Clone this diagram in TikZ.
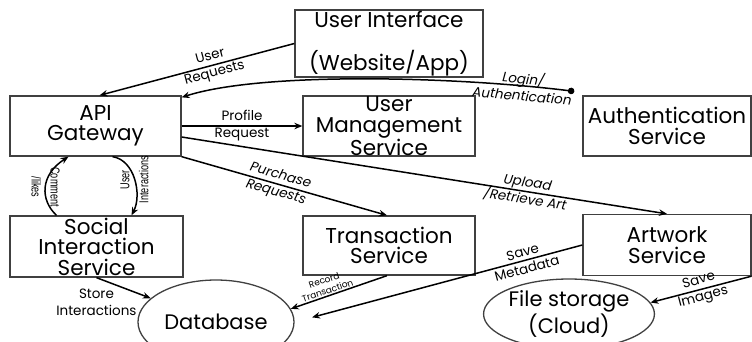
\documentclass[tikz,border=0pt]{standalone}
\usepackage{fontspec}
\setmainfont{Poppins}
\newfontfamily\narrowfont[FakeStretch=0.7]{Liberation Sans}
\usetikzlibrary{arrows.meta,shapes.geometric}

\begin{document}
\begin{tikzpicture}[x=1pt,y=-1pt]
  \tikzstyle{service}=[draw=black!75, line width=1.3pt, rectangle, align=center, inner sep=0pt, font=\fontsize{21.5}{20.5}\selectfont]
  \tikzstyle{store}=[draw=black!75, line width=1.3pt, ellipse, align=center, inner sep=0pt, font=\fontsize{21}{23}\selectfont]
  \tikzstyle{flow}=[line width=1.5pt, -{Stealth[length=8pt,width=6.5pt]}]
  \tikzstyle{lbl}=[align=center, inner sep=1pt, font=\fontsize{13.5}{17}\selectfont]
  \tikzstyle{lbli}=[lbl, font=\fontsize{13.5}{17}\selectfont\itshape]
  \tikzstyle{tinylbl}=[align=center, inner sep=1pt, font=\fontsize{9}{11}\selectfont]
  \tikzstyle{vlbl}=[align=center, inner sep=1pt, font=\narrowfont\fontsize{13}{19}\selectfont]

  \useasboundingbox (0,0) rectangle (752,341);

  % services
  \node (ui) at (389,43.5) [service, minimum width=188pt, minimum height=67pt] {User Interface\\[22pt](Website/App)};
  \node (api) at (95.5,126) [service, minimum width=171pt, minimum height=60pt] {API\\Gateway};
  \node (usermgmt) at (389,126) [service, minimum width=172pt, minimum height=60pt] {User\\Management\\Service};
  \node (auth) at (667,126) [service, minimum width=168pt, minimum height=60pt] {Authentication\\Service};
  \node (social) at (96.5,246.5) [service, minimum width=173pt, minimum height=61pt] {Social\\Interaction\\Service};
  \node (trans) at (389,245.5) [service, minimum width=172pt, minimum height=59pt] {Transaction\\Service};
  \node (artwork) at (667,245) [service, minimum width=168pt, minimum height=61pt] {Artwork\\Service};

  % stores
  \node (db) at (216,322) [store, minimum width=156pt, minimum height=84pt] {Database};
  \node (files) at (569,314) [store, minimum width=154pt, minimum height=70pt] {File storage\\(Cloud)};

  % requests from the front end
  \draw[flow] (ui.west) -- node[lbl, sloped, pos=0.42] {User\\Requests} ([xshift=4pt]api.north);
  \draw[line width=1.5pt, {Circle[length=6.5pt]}-{Stealth[length=8pt,width=6.5pt]}]
    ([xshift=-8pt,yshift=4pt]auth.north west) .. controls (450,76) and (260,72) .. ([yshift=-2pt]api.north east)
    node[lbli, sloped, pos=0.13] {Login/\\Authentication};

  % gateway to services
  \draw[flow] (api.east) -- node[lbl] {Profile\\Request} (usermgmt.west);
  \draw[flow] (api.south east) -- node[lbli, sloped, pos=0.47] {Purchase\\Requests} ([xshift=-2pt]trans.north);
  \draw[flow] ([yshift=-11pt]api.east) -- node[lbli, sloped, pos=0.71] {Upload\\/Retrieve Art} (artwork.north);

  % social loop
  \draw[flow] ([xshift=-40pt]social.north) .. controls (40,200) and (40,175) .. ([xshift=-27pt]api.south)
    node[vlbl, pos=0.5, rotate=-90] {Comment\\/likes};
  \draw[flow] ([xshift=17pt]api.south) .. controls (135,160) and (142,195) .. ([xshift=35pt]social.north)
    node[vlbl, pos=0.5, rotate=90] {User\\Interactions};

  % persistence
  \draw[flow] (social.south) -- node[lbl, pos=0.9, anchor=east, xshift=-7pt, yshift=-6pt] {Store\\Interactions} (db.160);
  \draw[flow] ([xshift=-2pt]trans.south) -- node[tinylbl, sloped, above, pos=0.6] {Record\\Transaction} (db.10);
  \draw[flow, shorten >=18pt] (artwork.west) -- node[lbl, sloped, pos=0.2] {Save\\Metadata} (db.east);
  \draw[flow] (artwork.south east) -- node[lbl, sloped, pos=0.5] {Save\\Images} (files.8);
\end{tikzpicture}
\end{document}
